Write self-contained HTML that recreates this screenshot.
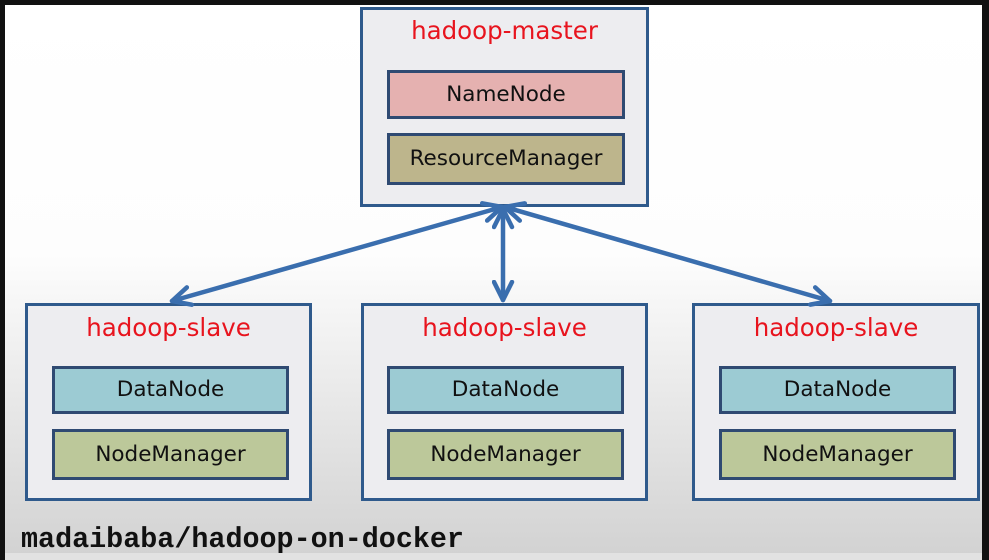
<!DOCTYPE html>
<html><head><meta charset="utf-8"><style>
html,body{margin:0;padding:0;width:989px;height:560px;overflow:hidden;background:#111;}
#s{position:absolute;left:5px;top:5px;width:977px;height:551px;background:linear-gradient(#fff 0px,#fdfdfd 250px,#d2d2d2 551px);}
#b{position:absolute;left:5px;top:553px;width:977px;height:7px;background:#e2e2e2;}
.box{position:absolute;box-sizing:border-box;border:3px solid #2f5a8c;background:#ededf0;}
.t{position:absolute;left:0;right:0;text-align:center;color:#e8141e;font:24.5px "DejaVu Sans","Liberation Sans",sans-serif;}
.in{position:absolute;box-sizing:border-box;border:3px solid #2f4a72;text-align:center;font:21.5px "DejaVu Sans","Liberation Sans",sans-serif;color:#111;}
.dn{background:#9ccbd3;} .nm{background:#bcc89a;}
#txt{position:absolute;left:21px;top:523px;font:bold 28.4px "Liberation Mono",monospace;color:#111;}
svg{position:absolute;left:0;top:0;}
</style></head><body>
<div id="s"></div><div id="b"></div>
<div class="box" style="left:360px;top:7px;width:289px;height:200px;">
 <div class="t" style="top:6px">hadoop-master</div>
 <div class="in" style="left:24px;top:60px;width:238px;height:49px;line-height:43px;background:#e5b1b0">NameNode</div>
 <div class="in" style="left:24px;top:123px;width:238px;height:52px;line-height:46px;background:#bdb58c">ResourceManager</div>
</div>
<div class="box" style="left:25px;top:303px;width:287px;height:198px;">
 <div class="t" style="top:7px">hadoop-slave</div>
 <div class="in dn" style="left:24px;top:60px;width:237px;height:48px;line-height:42px">DataNode</div>
 <div class="in nm" style="left:24px;top:123px;width:237px;height:51px;line-height:45px">NodeManager</div>
</div>
<div class="box" style="left:361px;top:303px;width:287px;height:198px;">
 <div class="t" style="top:7px">hadoop-slave</div>
 <div class="in dn" style="left:23px;top:60px;width:237px;height:48px;line-height:42px">DataNode</div>
 <div class="in nm" style="left:23px;top:123px;width:237px;height:51px;line-height:45px">NodeManager</div>
</div>
<div class="box" style="left:692px;top:303px;width:288px;height:198px;">
 <div class="t" style="top:7px">hadoop-slave</div>
 <div class="in dn" style="left:24px;top:60px;width:237px;height:48px;line-height:42px">DataNode</div>
 <div class="in nm" style="left:24px;top:123px;width:237px;height:51px;line-height:45px">NodeManager</div>
</div>
<svg width="989" height="560">
 <defs><marker id="a" viewBox="0 0 10 10" refX="9" refY="5" markerWidth="5" markerHeight="5" orient="auto-start-reverse" markerUnits="strokeWidth">
  <path d="M1,1 L9,5 L1,9" fill="none" stroke="#3a6eae" stroke-width="2" stroke-linecap="round" stroke-linejoin="round"/></marker></defs>
 <g stroke="#3a6eae" stroke-width="4.5" fill="none" stroke-linecap="round">
  <line x1="502" y1="207" x2="172" y2="301" marker-start="url(#a)" marker-end="url(#a)"/>
  <line x1="503" y1="209" x2="503" y2="300" marker-start="url(#a)" marker-end="url(#a)"/>
  <line x1="505" y1="207" x2="830" y2="301" marker-start="url(#a)" marker-end="url(#a)"/>
 </g>
</svg>
<div id="txt">madaibaba/hadoop-on-docker</div>
</body></html>
